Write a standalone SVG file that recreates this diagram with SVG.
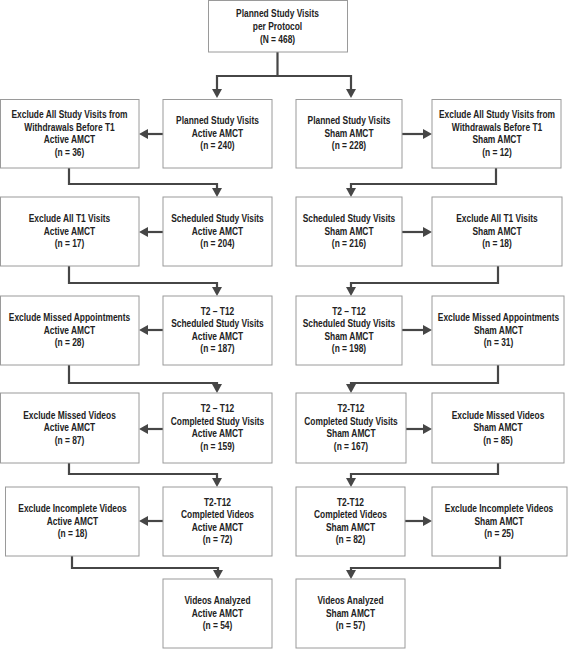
<svg xmlns="http://www.w3.org/2000/svg" width="568" height="649" viewBox="0 0 568 649">
<defs>
<style>
rect.box{fill:#ffffff;stroke:#9a9a9a;stroke-width:1}
text{font-family:"Liberation Sans",Arial,sans-serif;font-size:10px;font-weight:bold;fill:#222222;text-anchor:middle}
#connectors path{fill:none;stroke:#464646;stroke-width:2.2;stroke-linejoin:miter}
</style>
<marker id="ah" markerUnits="userSpaceOnUse" markerWidth="9" markerHeight="10" refX="1" refY="5" orient="auto">
<path d="M0,0 L9,5 L0,10 z" fill="#464646"/>
</marker>
</defs>
<rect width="568" height="649" fill="#ffffff"/>

<g id="connectors">
<path d="M277.5 52 V76 H217 V90" marker-end="url(#ah)"/>
<path d="M277.5 76 H351 V90" marker-end="url(#ah)"/>
<path d="M163 134 H147" marker-end="url(#ah)"/>
<path d="M402 134 H424" marker-end="url(#ah)"/>
<path d="M69 168 V184 H217 V189" marker-end="url(#ah)"/>
<path d="M496 168 V184 H351 V189" marker-end="url(#ah)"/>
<path d="M163 232 H147" marker-end="url(#ah)"/>
<path d="M402 232 H424" marker-end="url(#ah)"/>
<path d="M69 266 V283 H217 V288" marker-end="url(#ah)"/>
<path d="M498 266 V283 H351 V288" marker-end="url(#ah)"/>
<path d="M163 330 H147" marker-end="url(#ah)"/>
<path d="M402 330 H424" marker-end="url(#ah)"/>
<path d="M69 365 V383 H217 V385" marker-end="url(#ah)"/>
<path d="M498 365 V383 H351 V385" marker-end="url(#ah)"/>
<path d="M163 429 H147" marker-end="url(#ah)"/>
<path d="M406 429 H424" marker-end="url(#ah)"/>
<path d="M69 463 V474 H217 V479" marker-end="url(#ah)"/>
<path d="M498 463 V474 H351 V479" marker-end="url(#ah)"/>
<path d="M163 521 H147" marker-end="url(#ah)"/>
<path d="M405 521 H424" marker-end="url(#ah)"/>
<path d="M72 556 V568 H218 V571" marker-end="url(#ah)"/>
<path d="M500 556 V568 H351 V571" marker-end="url(#ah)"/>
</g>

<g id="top">
<rect class="box" x="208.5" y="0.5" width="139" height="51.5"/>
<g transform="translate(277.5 0) scale(0.84 1)"><text x="0" y="17.5">Planned Study Visits</text><text x="0" y="30.5">per Protocol</text><text x="0" y="43">(N = 468)</text></g>
</g>

<g id="r1_excl_active">
<rect class="box" x="0.5" y="99.5" width="138.5" height="68.5"/>
<g transform="translate(69.5 0) scale(0.84 1)"><text x="0" y="118.3">Exclude All Study Visits from</text><text x="0" y="130.8">Withdrawals Before T1</text><text x="0" y="143.3">Active AMCT</text><text x="0" y="155.8">(n = 36)</text></g>
</g>
<g id="r1_active">
<rect class="box" x="163" y="99.5" width="109" height="68.5"/>
<g transform="translate(217.5 0) scale(0.84 1)"><text x="0" y="124.5">Planned Study Visits</text><text x="0" y="137">Active AMCT</text><text x="0" y="149.5">(n = 240)</text></g>
</g>
<g id="r1_sham">
<rect class="box" x="296" y="99.5" width="106" height="68.5"/>
<g transform="translate(349 0) scale(0.84 1)"><text x="0" y="124.5">Planned Study Visits</text><text x="0" y="137">Sham AMCT</text><text x="0" y="149.5">(n = 228)</text></g>
</g>
<g id="r1_excl_sham">
<rect class="box" x="432" y="99.5" width="129" height="68.5"/>
<g transform="translate(497 0) scale(0.84 1)"><text x="0" y="118.3">Exclude All Study Visits from</text><text x="0" y="130.8">Withdrawals Before T1</text><text x="0" y="143.3">Sham AMCT</text><text x="0" y="155.8">(n = 12)</text></g>
</g>

<g id="r2_excl_active">
<rect class="box" x="0.5" y="197" width="138.5" height="69"/>
<g transform="translate(69.5 0) scale(0.84 1)"><text x="0" y="222.5">Exclude All T1 Visits</text><text x="0" y="235">Active AMCT</text><text x="0" y="247.5">(n = 17)</text></g>
</g>
<g id="r2_active">
<rect class="box" x="163" y="197" width="109" height="69"/>
<g transform="translate(217.5 0) scale(0.84 1)"><text x="0" y="222.5">Scheduled Study Visits</text><text x="0" y="235">Active AMCT</text><text x="0" y="247.5">(n = 204)</text></g>
</g>
<g id="r2_sham">
<rect class="box" x="296" y="197" width="106" height="69"/>
<g transform="translate(349 0) scale(0.84 1)"><text x="0" y="222.5">Scheduled Study Visits</text><text x="0" y="235">Sham AMCT</text><text x="0" y="247.5">(n = 216)</text></g>
</g>
<g id="r2_excl_sham">
<rect class="box" x="432" y="197" width="130" height="69"/>
<g transform="translate(497 0) scale(0.84 1)"><text x="0" y="222.5">Exclude All T1 Visits</text><text x="0" y="235">Sham AMCT</text><text x="0" y="247.5">(n = 18)</text></g>
</g>

<g id="r3_excl_active">
<rect class="box" x="0.5" y="296" width="138.5" height="69"/>
<g transform="translate(69.5 0) scale(0.84 1)"><text x="0" y="321.5">Exclude Missed Appointments</text><text x="0" y="334">Active AMCT</text><text x="0" y="346.5">(n = 28)</text></g>
</g>
<g id="r3_active">
<rect class="box" x="163" y="296" width="109" height="69"/>
<g transform="translate(217.5 0) scale(0.84 1)"><text x="0" y="315">T2 – T12</text><text x="0" y="327.5">Scheduled Study Visits</text><text x="0" y="340">Active AMCT</text><text x="0" y="352.5">(n = 187)</text></g>
</g>
<g id="r3_sham">
<rect class="box" x="296" y="296" width="106" height="69"/>
<g transform="translate(349 0) scale(0.84 1)"><text x="0" y="315">T2 – T12</text><text x="0" y="327.5">Scheduled Study Visits</text><text x="0" y="340">Sham AMCT</text><text x="0" y="352.5">(n = 198)</text></g>
</g>
<g id="r3_excl_sham">
<rect class="box" x="432" y="296" width="132" height="69"/>
<g transform="translate(498.5 0) scale(0.84 1)"><text x="0" y="321.5">Exclude Missed Appointments</text><text x="0" y="334">Sham AMCT</text><text x="0" y="346.5">(n = 31)</text></g>
</g>

<g id="r4_excl_active">
<rect class="box" x="0.5" y="393" width="138.5" height="70"/>
<g transform="translate(69.5 0) scale(0.84 1)"><text x="0" y="419">Exclude Missed Videos</text><text x="0" y="431.5">Active AMCT</text><text x="0" y="444">(n = 87)</text></g>
</g>
<g id="r4_active">
<rect class="box" x="163" y="393" width="109" height="70"/>
<g transform="translate(217.5 0) scale(0.84 1)"><text x="0" y="412.5">T2 – T12</text><text x="0" y="425">Completed Study Visits</text><text x="0" y="437.5">Active AMCT</text><text x="0" y="450">(n = 159)</text></g>
</g>
<g id="r4_sham">
<rect class="box" x="296" y="393" width="110" height="70"/>
<g transform="translate(351 0) scale(0.84 1)"><text x="0" y="412.5">T2-T12</text><text x="0" y="425">Completed Study Visits</text><text x="0" y="437.5">Sham AMCT</text><text x="0" y="450">(n = 167)</text></g>
</g>
<g id="r4_excl_sham">
<rect class="box" x="432" y="393" width="132" height="70"/>
<g transform="translate(498 0) scale(0.84 1)"><text x="0" y="419">Exclude Missed Videos</text><text x="0" y="431.5">Sham AMCT</text><text x="0" y="444">(n = 85)</text></g>
</g>

<g id="r5_excl_active">
<rect class="box" x="5.5" y="487" width="133.5" height="69"/>
<g transform="translate(72.5 0) scale(0.84 1)"><text x="0" y="512.5">Exclude Incomplete Videos</text><text x="0" y="525">Active AMCT</text><text x="0" y="537.5">(n = 18)</text></g>
</g>
<g id="r5_active">
<rect class="box" x="163" y="487" width="109" height="69"/>
<g transform="translate(217.5 0) scale(0.84 1)"><text x="0" y="506">T2-T12</text><text x="0" y="518.5">Completed Videos</text><text x="0" y="531">Active AMCT</text><text x="0" y="543.5">(n = 72)</text></g>
</g>
<g id="r5_sham">
<rect class="box" x="296" y="487" width="109" height="69"/>
<g transform="translate(350.5 0) scale(0.84 1)"><text x="0" y="506">T2-T12</text><text x="0" y="518.5">Completed Videos</text><text x="0" y="531">Sham AMCT</text><text x="0" y="543.5">(n = 82)</text></g>
</g>
<g id="r5_excl_sham">
<rect class="box" x="432" y="487" width="135" height="69"/>
<g transform="translate(499 0) scale(0.84 1)"><text x="0" y="512.5">Exclude Incomplete Videos</text><text x="0" y="525">Sham AMCT</text><text x="0" y="537.5">(n = 25)</text></g>
</g>

<g id="r6_active">
<rect class="box" x="163" y="579" width="109" height="69"/>
<g transform="translate(217.5 0) scale(0.84 1)"><text x="0" y="604.5">Videos Analyzed</text><text x="0" y="617">Active AMCT</text><text x="0" y="629.5">(n = 54)</text></g>
</g>
<g id="r6_sham">
<rect class="box" x="296" y="579" width="109" height="69"/>
<g transform="translate(350.5 0) scale(0.84 1)"><text x="0" y="604.5">Videos Analyzed</text><text x="0" y="617">Sham AMCT</text><text x="0" y="629.5">(n = 57)</text></g>
</g>
</svg>
